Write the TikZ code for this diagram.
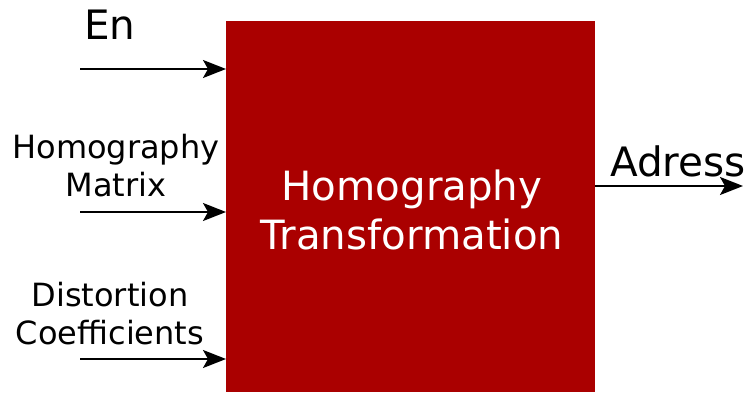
\documentclass[tikz,border=0pt]{standalone}
\usepackage{fontspec}
\setmainfont{DejaVu Sans}
\usetikzlibrary{arrows.meta}
\definecolor{boxred}{HTML}{AA0000}
\begin{document}
\begin{tikzpicture}[x=1pt,y=-1pt,
  sig/.style={draw=black,line width=2pt,-{Stealth[length=23pt,width=18pt,inset=5pt]}},
  lbl/.style={inner sep=0pt,align=center,font=\fontsize{32}{38}\selectfont},
  biglbl/.style={inner sep=0pt,align=center,font=\fontsize{40.5}{48}\selectfont}]
\useasboundingbox (0,0) rectangle (746,393);
\node[fill=boxred,minimum width=369pt,minimum height=371pt,inner sep=0pt,anchor=north west] (blk) at (226,21) {};
\node[text=white,align=center,inner sep=0pt,font=\fontsize{40.3}{48.5}\selectfont] (blktxt) at (412,210) {Homography\\Transformation};
\coordinate (en0) at (80,69);
\coordinate (hm0) at (80,212);
\coordinate (dc0) at (80,359);
\coordinate (en1) at (blk.west |- en0);
\coordinate (hm1) at (blk.west |- hm0);
\coordinate (dc1) at (blk.west |- dc0);
\coordinate (out0) at (blk.east |- 0,186);
\coordinate (out1) at (743,186);
\draw[sig] (en0) -- (en1);
\draw[sig] (hm0) -- (hm1);
\draw[sig] (dc0) -- (dc1);
\draw[sig] (out0) -- (out1);
\node[biglbl] (entxt) at (110,25) {En};
\node[lbl] (hmtxt) at (116,166) {Homography\\Matrix};
\node[lbl] (dctxt) at (110,314) {Distortion\\Coefficients};
\node[biglbl] (outtxt) at (678,161) {Adress};
\end{tikzpicture}
\end{document}
